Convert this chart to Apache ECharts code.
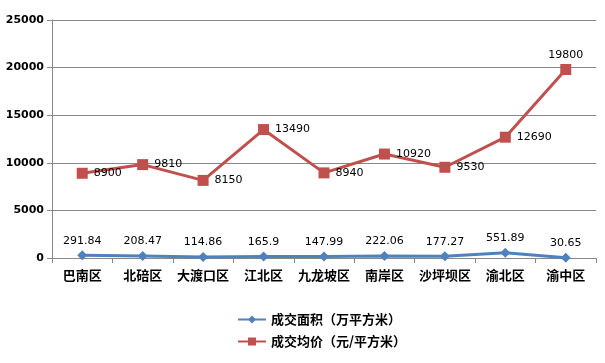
<!DOCTYPE html>
<html><head><meta charset="utf-8">
<script src="https://cdn.jsdelivr.net/npm/echarts@6/dist/echarts.min.js"></script>
<style>html,body{margin:0;padding:0;background:#fff}#c{width:605px;height:363px}</style>
</head><body><div id="c"></div>
<script>
const categories = ['巴南区','北碚区','大渡口区','江北区','九龙坡区','南岸区','沙坪坝区','渝北区','渝中区'];
const areaName = '成交面积（万平方米）';
const priceName = '成交均价（元/平方米）';
const areaValues = [291.84, 208.47, 114.86, 165.9, 147.99, 222.06, 177.27, 551.89, 30.65];
const priceValues = [8900, 9810, 8150, 13490, 8940, 10920, 9530, 12690, 19800];
const yMin = 0, yMax = 25000, yInterval = 5000;

const chart = echarts.init(document.getElementById('c'), null, {renderer:'canvas'});
const labelFont = {fontFamily:'DejaVu Sans', fontSize:11, color:'#000'};
const priceData = priceValues.map((v,i)=> i===priceValues.length-1 ? {value:v, label:{position:'top', distance:3}} : v);
chart.setOption({
  animation:false,
  backgroundColor:'#fff',
  grid:{left:52, right:9, top:20, bottom:105},
  legend:{
    orient:'vertical', left:232, top:308, itemGap:9, itemWidth:28, itemHeight:10,
    textStyle:{fontFamily:'Noto Sans CJK SC', fontWeight:'bold', fontSize:13, color:'#000'},
    data:[areaName, priceName]
  },
  xAxis:{
    type:'category', data:categories, boundaryGap:true,
    axisLine:{lineStyle:{color:'#888'}},
    axisTick:{show:true, length:5, lineStyle:{color:'#888'}},
    axisLabel:{interval:0, fontFamily:'Noto Sans CJK SC', fontWeight:'bold', fontSize:13, color:'#000', margin:11}
  },
  yAxis:{
    type:'value', min:yMin, max:yMax, interval:yInterval,
    axisLine:{show:true, lineStyle:{color:'#888'}},
    axisTick:{show:true, length:5, lineStyle:{color:'#888'}},
    splitLine:{lineStyle:{color:'#888'}},
    axisLabel:{fontFamily:'DejaVu Sans', fontWeight:'bold', fontSize:11, color:'#000', margin:8, formatter:v=>String(v)}
  },
  series:[
    {name:areaName, type:'line', data:areaValues, symbol:'diamond', symbolSize:10,
     itemStyle:{color:'#4F81BD'}, lineStyle:{width:3, color:'#4F81BD'},
     label:{show:true, position:'top', distance:4, ...labelFont}},
    {name:priceName, type:'line', data:priceData, symbol:'rect', symbolSize:11,
     itemStyle:{color:'#C0504D'}, lineStyle:{width:3, color:'#C0504D'},
     label:{show:true, position:'right', distance:6, ...labelFont}}
  ]
});
</script></body></html>
